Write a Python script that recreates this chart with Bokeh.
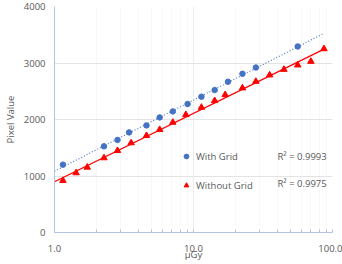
import numpy as np
from bokeh.plotting import figure
from bokeh.models import (Range1d, FixedTicker, PrintfTickFormatter,
                          Legend, LegendItem, Label)
from bokeh.embed import file_html
from bokeh.resources import INLINE

# ---- data ----
grid_x = [1.15, 2.27, 2.84, 3.44, 4.59, 5.71, 7.10, 9.07, 11.4, 14.2, 17.7, 22.5, 28.1, 56.2]
grid_y = [1201, 1525, 1638, 1772, 1896, 2037, 2143, 2274, 2403, 2521, 2668, 2809, 2920, 3292]

nogrid_x = [1.15, 1.43, 1.72, 2.27, 2.84, 3.56, 4.59, 5.71, 7.10, 8.81, 11.4, 14.2,
            16.9, 22.5, 28.1, 35.3, 44.7, 56.2, 69.9, 86.8]
nogrid_y = [919, 1055, 1154, 1320, 1449, 1585, 1714, 1820, 1949, 2085, 2214, 2332,
            2438, 2557, 2673, 2786, 2885, 2963, 3027, 3251]

trend_x = [1.0, 87.0]
labels = ["With Grid", "Without Grid"]
r2_texts = ["R\u00b2 = 0.9993", "R\u00b2 = 0.9975"]
x_title = "\u00b5Gy"
y_title = "Pixel Value"
x_ticks = [1, 10, 100]
y_ticks = [0, 1000, 2000, 3000, 4000]

BLUE = "#4472C4"
RED = "#FF0000"
TXT = "#595959"
FONT = "Open Sans"
AX = "#b4c4e0"
FS = "9.5px"


def log_fit(xs, ys, xe):
    a, b = np.polyfit(np.log10(xs), ys, 1)
    return [a * np.log10(v) + b for v in xe]


p = figure(width=342, height=264, x_axis_type="log",
           x_range=Range1d(1, 100), y_range=Range1d(0, 4000),
           output_backend="svg", toolbar_location=None,
           min_border_left=50, min_border_right=10, min_border_top=6, min_border_bottom=32)
p.outline_line_color = None
p.background_fill_color = "white"

# trendlines
p.line(trend_x, log_fit(grid_x, grid_y, trend_x), line_color=BLUE, line_width=1.1, line_dash="1 2")
p.line(trend_x, log_fit(nogrid_x, nogrid_y, trend_x), line_color=RED, line_width=1.3)

r1 = p.scatter(grid_x, grid_y, marker="circle", size=5.5, fill_color=BLUE, line_color=BLUE)
r2 = p.scatter(nogrid_x, nogrid_y, marker="triangle", size=6.5, fill_color=RED, line_color=RED)

# axes
xa = p.xaxis[0]
xa.ticker = FixedTicker(ticks=x_ticks, minor_ticks=[v * d for d in [1, 10] for v in range(2, 10)])
xa.formatter = PrintfTickFormatter(format="%.1f")
xa.axis_line_color = AX
xa.major_tick_line_color = AX
xa.minor_tick_line_color = AX
xa.major_tick_out = 0
xa.major_tick_in = 3
xa.minor_tick_out = 0
xa.minor_tick_in = 3
xa.major_label_standoff = 12
xa.major_label_text_font = FONT
xa.major_label_text_font_size = FS
xa.major_label_text_color = TXT
xa.axis_label = x_title
xa.axis_label_text_font = FONT
xa.axis_label_text_font_size = FS
xa.axis_label_text_font_style = "normal"
xa.axis_label_text_color = TXT
xa.axis_label_standoff = -7

ya = p.yaxis[0]
ya.ticker = FixedTicker(ticks=y_ticks)
ya.axis_line_color = AX
ya.major_tick_line_color = None
ya.minor_tick_line_color = None
ya.major_tick_out = 0
ya.major_tick_in = 0
ya.major_label_standoff = 9
ya.major_label_text_font = FONT
ya.major_label_text_font_size = FS
ya.major_label_text_color = TXT
ya.axis_label = y_title
ya.axis_label_text_font = FONT
ya.axis_label_text_font_size = FS
ya.axis_label_text_font_style = "normal"
ya.axis_label_text_color = TXT
ya.axis_label_standoff = 4

p.ygrid.grid_line_color = "#e3e3e3"
p.xgrid.grid_line_color = "#ececec"
p.xgrid.minor_grid_line_color = "#f8f8f8"

legend = Legend(items=[LegendItem(label=labels[0], renderers=[r1]),
                       LegendItem(label=labels[1], renderers=[r2])],
                location=(126, 37), orientation="vertical",
                glyph_width=12, glyph_height=20, label_height=20, spacing=9,
                label_standoff=4, padding=0, margin=0,
                border_line_color=None, background_fill_alpha=0,
                label_text_font=FONT, label_text_font_size=FS, label_text_color=TXT)
p.add_layout(legend, "center")

for txt, yy in zip(r2_texts, [76.3, 48.7]):
    p.add_layout(Label(x=223, y=yy, x_units="screen", y_units="screen", text=txt,
                       text_font=FONT, text_font_size=FS, text_color=TXT,
                       text_baseline="middle"))

open("out.html", "w").write(file_html(p, INLINE))
